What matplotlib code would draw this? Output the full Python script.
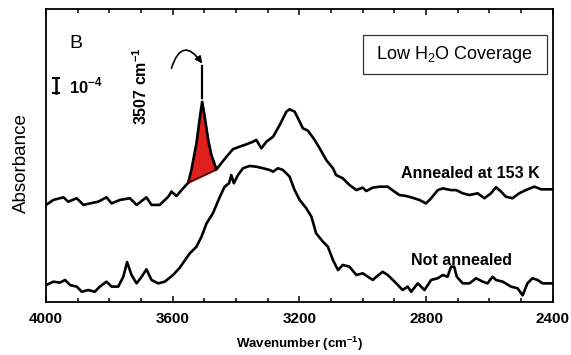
import numpy as np
import matplotlib.pyplot as plt
from matplotlib.ticker import MultipleLocator
from matplotlib.patches import Rectangle

plt.rcParams["font.family"] = ["Liberation Sans", "DejaVu Sans"]
plt.rcParams["mathtext.fontset"] = "custom"
plt.rcParams["mathtext.rm"] = "Liberation Sans"
plt.rcParams["mathtext.bf"] = "Liberation Sans:bold"

# Annealed at 153 K (absorbance in 1e-4 units, offset)
annealed_wn = [4000, 3977, 3945, 3930, 3903, 3882, 3861, 3835, 3809, 3793, 3767, 3735, 3714,
               3683, 3667, 3641, 3614, 3604, 3588, 3572, 3551, 3541, 3525, 3514, 3507, 3499,
               3488, 3478, 3462, 3451, 3430, 3410, 3388, 3367, 3346, 3336, 3320, 3304, 3283,
               3262, 3241, 3231, 3215, 3199, 3189, 3173, 3152, 3136, 3115, 3094, 3084, 3063,
               3042, 3020, 3000, 2989, 2968, 2947, 2921, 2900, 2884, 2863, 2847, 2821, 2800,
               2784, 2763, 2747, 2721, 2705, 2684, 2663, 2637, 2616, 2595, 2579, 2563, 2548,
               2527, 2506, 2485, 2458, 2437, 2400]
annealed_abs = [5.11, 5.37, 5.51, 5.28, 5.46, 5.11, 5.19, 5.28, 5.51, 5.19, 5.37, 5.46, 5.11,
                5.51, 5.11, 5.11, 5.54, 5.81, 5.58, 5.89, 6.28, 6.95, 8.35, 9.75, 10.54, 9.75,
                8.53, 7.74, 6.98, 7.21, 7.65, 8.04, 8.18, 8.30, 8.44, 8.53, 8.09, 8.44, 8.70,
                9.32, 10.02, 10.14, 10.02, 9.49, 9.14, 9.02, 8.53, 8.09, 7.47, 7.04, 6.68, 6.51,
                6.16, 5.89, 6.02, 5.84, 6.02, 6.07, 6.07, 5.81, 5.63, 5.58, 5.51, 5.37, 5.19,
                5.46, 5.89, 5.98, 5.89, 5.89, 5.72, 5.63, 5.72, 5.46, 5.72, 6.04, 5.81, 5.54,
                5.46, 5.72, 5.89, 6.07, 5.93, 5.93]

# Not annealed
raw_wn = [4000, 3977, 3956, 3940, 3924, 3903, 3887, 3867, 3846, 3830, 3809, 3793, 3772, 3756,
          3744, 3730, 3714, 3698, 3683, 3667, 3646, 3625, 3599, 3578, 3546, 3525, 3509, 3493,
          3473, 3451, 3436, 3422, 3415, 3407, 3394, 3378, 3357, 3336, 3315, 3294, 3283, 3268,
          3252, 3231, 3215, 3199, 3178, 3162, 3147, 3126, 3110, 3094, 3078, 3063, 3042, 3020,
          3000, 2984, 2968, 2957, 2937, 2921, 2894, 2874, 2858, 2847, 2826, 2805, 2784, 2763,
          2747, 2732, 2721, 2711, 2703, 2684, 2663, 2642, 2621, 2606, 2590, 2579, 2558, 2532,
          2511, 2495, 2480, 2464, 2448, 2432, 2400]
raw_abs = [0.89, 1.07, 1.02, 1.16, 0.89, 0.81, 0.54, 0.63, 0.54, 0.81, 1.07, 0.81, 0.81, 1.33,
           2.10, 1.42, 0.98, 1.33, 1.72, 1.16, 0.98, 1.07, 1.42, 1.80, 2.56, 2.91, 3.44, 4.14,
           4.67, 5.54, 6.07, 6.25, 6.68, 6.25, 6.68, 7.04, 7.16, 7.12, 7.04, 6.95, 6.86, 7.04,
           6.95, 6.60, 5.89, 5.37, 4.93, 4.49, 3.61, 3.18, 2.91, 2.21, 1.68, 1.95, 1.86, 1.42,
           1.51, 1.33, 1.16, 1.33, 1.59, 1.42, 0.98, 0.63, 0.81, 0.54, 0.98, 0.63, 1.16, 1.25,
           1.42, 1.33, 1.86, 1.86, 1.33, 0.98, 0.98, 1.25, 1.07, 0.98, 1.33, 1.16, 1.07, 0.81,
           0.72, 0.35, 0.98, 1.25, 1.16, 0.98, 0.98]

peak_wn = 3507
peak_range = (3551, 3462)  # ends of the shaded band

fig = plt.figure(figsize=(5.71, 3.55), dpi=100)
ax = fig.add_axes([0.0806, 0.1493, 0.8874, 0.8253])

ax.plot(annealed_wn, annealed_abs, color='black', lw=1.9, zorder=3)
ax.plot(raw_wn, raw_abs, color='black', lw=1.9, zorder=3)

# red shaded peak over a straight baseline
wn = np.array(annealed_wn)
ab = np.array(annealed_abs)
m = (wn <= peak_range[0]) & (wn >= peak_range[1])
base = np.interp(wn[m], [peak_range[1], peak_range[0]],
                 [ab[wn == peak_range[1]][0], ab[wn == peak_range[0]][0]])
ax.fill_between(wn[m], base, ab[m], color='#e0201c', zorder=2)
ax.plot(wn[m][[0, -1]], base[[0, -1]], color='black', lw=0.8, zorder=2)

ax.set_xlim(4000, 2400)
ax.set_ylim(0, 15.42)
ax.xaxis.set_major_locator(MultipleLocator(400))
ax.xaxis.set_minor_locator(MultipleLocator(100))
ax.set_yticks([])
ax.tick_params(axis='x', which='both', direction='in', top=True, width=1.1)
ax.tick_params(axis='x', which='major', length=4.5, pad=7, labelsize=11)
ax.tick_params(axis='x', which='minor', length=2.6)
for lab in ax.get_xticklabels():
    lab.set_fontweight('bold')
for s in ax.spines.values():
    s.set_linewidth(1.3)

ax.set_xlabel(r'Wavenumber (cm$^{\mathbf{-1}}$)', fontsize=9.5, fontweight='bold')
ax.xaxis.set_label_coords(0.501, -0.112)
ax.set_ylabel('Absorbance', fontsize=13.5)
ax.yaxis.set_label_coords(-0.032, 0.474)

ax.text(0.0586, 0.884, 'B', transform=ax.transAxes, fontsize=14, ha='center', va='center')

# 1e-4 scale bar
ax.plot([0.0197, 0.0197], [0.712, 0.766], transform=ax.transAxes, color='black', lw=1.8)
for yy in (0.712, 0.766):
    ax.plot([0.0137, 0.0257], [yy, yy], transform=ax.transAxes, color='black', lw=1.5)
ax.text(0.045, 0.7122, r'10$^{\mathbf{-4}}$', transform=ax.transAxes, fontsize=12,
        fontweight='bold', ha='left', va='baseline')

ax.text(0.1875, 0.737, r'3507 cm$^{\mathbf{-1}}$', transform=ax.transAxes, fontsize=11.5,
        fontweight='bold', rotation=90, ha='center', va='center')
ax.plot([peak_wn, peak_wn], [10.74, 12.42], color='black', lw=1.6)
ax.annotate('', xy=(peak_wn, 12.55), xytext=(3604, 12.3),
            arrowprops=dict(arrowstyle='-|>', connectionstyle='arc3,rad=-1.0', lw=1.2,
                            color='black', mutation_scale=10, shrinkA=0, shrinkB=0))

ax.add_patch(Rectangle((0.625, 0.777), 0.363, 0.134, transform=ax.transAxes, fill=False,
                       edgecolor='#333333', lw=0.9))
ax.text(0.8066, 0.845, r'Low H$_2$O Coverage', transform=ax.transAxes, fontsize=13,
        ha='center', va='center')

ax.text(0.838, 0.440, 'Annealed at 153 K', transform=ax.transAxes, fontsize=11.5,
        fontweight='bold', ha='center', va='center')
ax.text(0.820, 0.143, 'Not annealed', transform=ax.transAxes, fontsize=11.5,
        fontweight='bold', ha='center', va='center')

fig.savefig('out.png', dpi=100)
